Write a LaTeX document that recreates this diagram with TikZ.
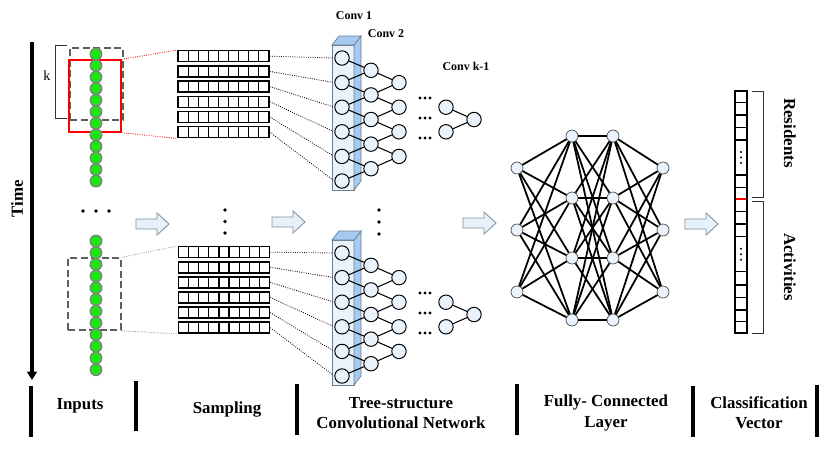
\documentclass[tikz,border=0pt]{standalone}
\usepackage{fontspec}
\setmainfont{Liberation Serif}
\usetikzlibrary{arrows.meta,positioning,calc}
\definecolor{inputgreen}{RGB}{30,228,20}
\definecolor{ringgray}{RGB}{128,128,128}
\definecolor{nodeblue}{RGB}{234,243,252}
\definecolor{slabblue}{RGB}{165,203,242}
\definecolor{slabline}{RGB}{110,125,140}
\definecolor{hollowfill}{RGB}{232,241,249}
\definecolor{hollowline}{RGB}{125,145,160}
\definecolor{boxgray}{RGB}{95,95,95}
\definecolor{tapgray}{RGB}{150,150,150}

\tikzset{
  sample/.style={circle, draw=ringgray, fill=inputgreen, line width=0.9pt, minimum size=0.29cm, inner sep=0pt},
  unit/.style={circle, draw, fill=nodeblue, line width=0.7pt, minimum size=0.36cm, inner sep=0pt},
  fcunit/.style={circle, draw=black!70, fill=nodeblue, line width=0.5pt, minimum size=0.3cm, inner sep=0pt},
  seqrow/.style={draw, line width=1.1pt, minimum width=2.275cm, minimum height=0.275cm, inner sep=0pt,
    path picture={\foreach \k in {1,...,8} \draw[line width=0.85pt] ([xshift=\k*0.25278cm]path picture bounding box.south west) -- ([xshift=\k*0.25278cm]path picture bounding box.north west);}},
  winbox/.style={rectangle, minimum width=1.325cm, minimum height=1.8cm, inner sep=0pt, line width=1pt},
  tap/.style={densely dotted, line width=0.6pt, shorten >=1pt},
  tree/.style={line width=0.75pt},
  dense/.style={line width=1.25pt},
  slabface/.style={draw=slabline, fill=nodeblue, line width=0.5pt},
  slabside/.style={draw=slabline, fill=slabblue, line width=0.5pt},
  hollow/.style={draw=hollowline, fill=hollowfill, line width=0.6pt},
  sepbar/.style={line width=2.2pt},
  brace/.style={draw=black!80, line width=0.7pt},
  labelfont/.style={font=\bfseries\fontsize{12}{14}\selectfont},
  stagefont/.style={font=\bfseries\fontsize{12}{14.4}\selectfont, align=center},
  convfont/.style={font=\bfseries\fontsize{8.5}{10}\selectfont}
}

\begin{document}
\begin{tikzpicture}[x=0.025cm, y=-0.025cm]
\useasboundingbox (0,0) rectangle (830,463);

% Time axis
\coordinate (ttop) at (32,42);
\coordinate (tbot) at (32,380);
\draw[line width=2.6pt, -{Triangle[width=7pt,length=6pt]}] (ttop) -- (tbot);
\node[rotate=90, labelfont] (time) at (17,199) {Time};

% Input windows
\node[winbox, draw=boxgray, dash pattern=on 5pt off 2.5pt] (wina) at (96.5,84) {};
\node[winbox, draw=red, minimum width=1.3cm] (winr) at (95,96) {};
\node[winbox, draw=boxgray, dash pattern=on 5pt off 2.5pt] (winb) at (94.5,294) {};
\draw[brace] (67,45) -- (55,45) -- (55,118) -- (67,118);
\node[font=\fontsize{10}{12}\selectfont] (klabel) at (47,76) {k};

% Input sequences
\foreach \i in {1,...,12} {
  \node[sample] (ga\i) at (96,{54+11.55*(\i-1)}) {};
  \node[sample] (gb\i) at (96,{241+11.7*(\i-1)}) {};
}
\foreach \d in {-13,0,13} \fill ({96+\d},211) circle (1.3pt);

% Sampling
\foreach \i in {1,...,6} {
  \node[seqrow] (sa\i) at (223.5,{56.2+15.2*(\i-1)}) {};
  \node[seqrow] (sb\i) at (224,{252.2+15.1*(\i-1)}) {};
}
\draw[red, tap] (winr.north east) -- (sa1.north west);
\draw[red, tap] (winr.south east) -- (sa6.south west);
\draw[tapgray, tap] (winb.north east) -- (sb1.north west);
\draw[tapgray, tap] (winb.south east) -- (sb6.south west);
\foreach \yy in {210,221.5,233} \fill (225,\yy) circle (1.3pt);

% Tree-structure convolution
\foreach \p/\dy in {a/0,b/195} {
  \filldraw[slabface] (332,{45+\dy}) rectangle (354,{190+\dy});
  \filldraw[slabside] (354,{45+\dy}) -- (361,{36+\dy}) -- (361,{181+\dy}) -- (354,{190+\dy}) -- cycle;
  \filldraw[slabside] (332,{45+\dy}) -- (339,{36+\dy}) -- (361,{36+\dy}) -- (354,{45+\dy}) -- cycle;
  \foreach \i in {1,...,6} \node[unit] (\p one\i) at (342,{58+24.6*(\i-1)+\dy}) {};
  \foreach \i in {1,...,5} \node[unit] (\p two\i) at (371,{70.3+24.6*(\i-1)+\dy}) {};
  \foreach \i in {1,...,4} \node[unit] (\p three\i) at (399,{82.6+24.6*(\i-1)+\dy}) {};
  \node[unit] (\p pen1) at (446,{107.2+\dy}) {};
  \node[unit] (\p pen2) at (446,{131.8+\dy}) {};
  \node[unit] (\p out) at (474,{119.5+\dy}) {};
  \foreach \i [evaluate=\i as \n using int(\i+1)] in {1,...,5} {
    \draw[tree] (\p one\i) -- (\p two\i);
    \draw[tree] (\p one\n) -- (\p two\i);
  }
  \foreach \i [evaluate=\i as \n using int(\i+1)] in {1,...,4} {
    \draw[tree] (\p two\i) -- (\p three\i);
    \draw[tree] (\p two\n) -- (\p three\i);
  }
  \draw[tree] (\p pen1) -- (\p out);
  \draw[tree] (\p pen2) -- (\p out);
  \foreach \j in {0,1,2} \foreach \d in {-5,0,5} \fill ({425+\d},{98+20*\j+\dy}) circle (1.1pt);
  \foreach \i in {1,...,6} \draw[tap] (s\p\i.east) -- (\p one\i.west);
}
\foreach \yy in {210,222,234} \fill (379,\yy) circle (1.3pt);
\node[convfont] (conva) at (354,16) {Conv 1};
\node[convfont] (convb) at (386,34) {Conv 2};
\node[convfont] (convk) at (466,66) {Conv k-1};

% Fully-connected layer
\foreach \i/\yy in {1/168,2/230,3/292} {
  \node[fcunit] (fa\i) at (517,\yy) {};
  \node[fcunit] (fd\i) at (663,\yy) {};
}
\foreach \i/\yy in {1/136,2/198,3/258,4/320} {
  \node[fcunit] (fb\i) at (572,\yy) {};
  \node[fcunit] (fc\i) at (613,\yy) {};
}
\foreach \i in {1,2,3} \foreach \j in {1,...,4} {
  \draw[dense] (fa\i) -- (fb\j);
  \draw[dense] (fc\j) -- (fd\i);
}
\foreach \i in {1,...,4} \foreach \j in {1,...,4} \draw[dense] (fb\i) -- (fc\j);

% Hollow arrows
\foreach \ax/\ay in {136/224, 272/222, 463/223, 685/224}
  \draw[hollow] (\ax,{\ay-5}) -- ++(21,0) -- ++(0,-6) -- ++(12,11) -- ++(-12,11) -- ++(0,-6) -- ++(-21,0) -- cycle;

% Classification vector
\node[draw, line width=1.3pt, minimum width=0.3cm, minimum height=6.065cm, inner sep=0pt] (vec) at (741,212) {};
\foreach \yy in {102.3,115,127.3,140,175,187.3,211.7,224,236.7,271.7,285,297.7,310,321.7}
  \draw[line width=1pt] (735,\yy) -- (747,\yy);
\draw[red, line width=1.3pt] (735.6,199.3) -- (746.4,199.3);
\foreach \yy in {152,157.5,163,248.7,254.2,259.7} \fill (741,\yy) circle (0.8pt);
\draw[brace] (752,91) -- (763,91) -- (763,197) -- (752,197);
\draw[brace] (752,201) -- (763,201) -- (763,333) -- (752,333);
\node[rotate=-90, labelfont] (res) at (790,133) {Residents};
\node[rotate=-90, labelfont] (act) at (790,267) {Activities};

% Stage captions
\foreach \bx/\bt/\bb in {31/386/437, 136/381/431, 297/384/435, 517/384/435, 693/386/437, 817/385/437}
  \draw[sepbar] (\bx,\bt) -- (\bx,\bb);
\node[stagefont] (inputs) at (80,406) {Inputs};
\node[stagefont] (sampling) at (227,409) {Sampling};
\node[stagefont] (tcn) at (401,413) {Tree-structure\\Convolutional Network};
\node[stagefont] (fcl) at (606,413) {Fully- Connected\\Layer};
\node[stagefont] (cvec) at (759,413) {Classification\\Vector};
\end{tikzpicture}
\end{document}
